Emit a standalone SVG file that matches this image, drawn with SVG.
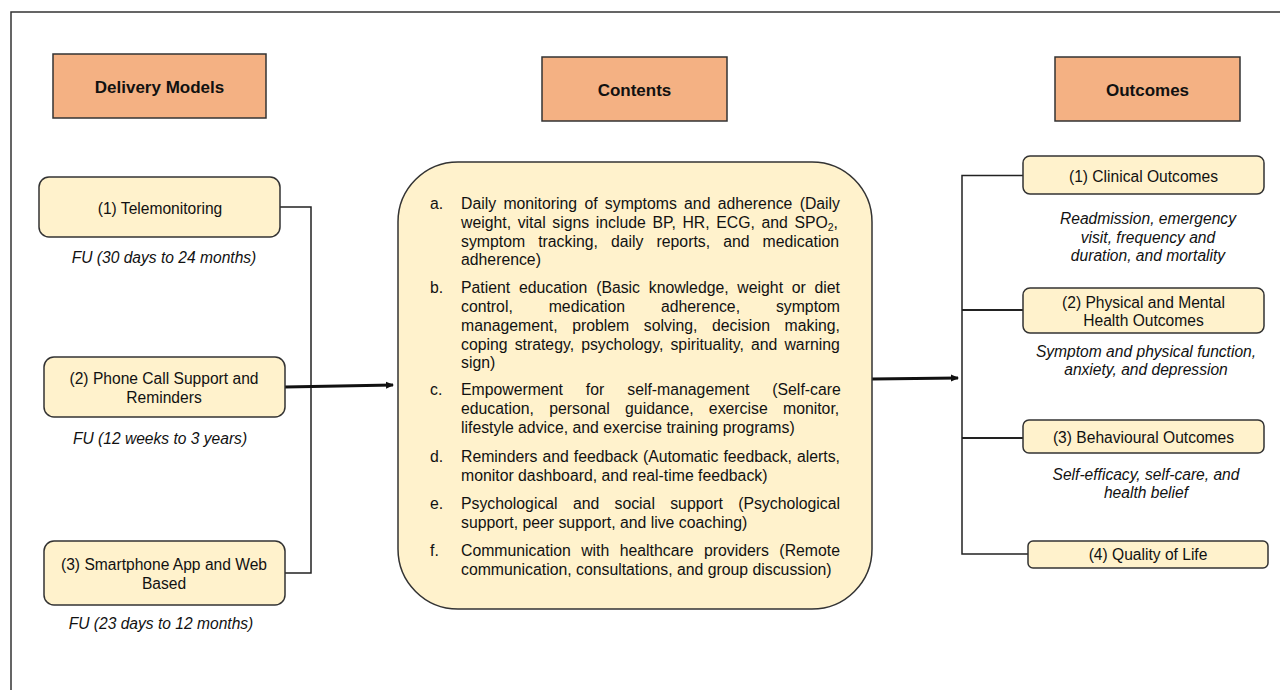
<svg xmlns="http://www.w3.org/2000/svg" width="1280" height="690" viewBox="0 0 1280 690">
<style>
text{font-family:"Liberation Sans",Arial,sans-serif;fill:#111;font-size:15.6px}
.hdr{fill:#F4B183;stroke:#333;stroke-width:1.5}
.hdrt{font-weight:bold;font-size:17px;text-anchor:middle}
.node{fill:#FFF2CC;stroke:#333;stroke-width:1.5}
.c{text-anchor:middle}
.it{font-style:italic;text-anchor:middle}
.ln{fill:none;stroke:#222;stroke-width:1.5}
.th{fill:none;stroke:#111;stroke-width:3}
#contents text{font-size:15.8px}
</style>
<defs>
<marker id="ah" markerWidth="8" markerHeight="8" refX="7" refY="4" orient="auto" markerUnits="userSpaceOnUse">
<path d="M0,0.5 L8,4 L0,7.5 Z" fill="#111"/>
</marker>
</defs>
<rect width="1280" height="690" fill="#fff"/>
<path d="M11,690 V12 H1280" fill="none" stroke="#333" stroke-width="1.5"/>

<g id="hdr-delivery"><rect class="hdr" x="53" y="54" width="213" height="64"/><text class="hdrt" x="159.5" y="93">Delivery Models</text></g>
<g id="hdr-contents"><rect class="hdr" x="542" y="57" width="185" height="64"/><text class="hdrt" x="634.5" y="96">Contents</text></g>
<g id="hdr-outcomes"><rect class="hdr" x="1055" y="57" width="185" height="64"/><text class="hdrt" x="1147.5" y="96">Outcomes</text></g>

<g id="connectors">
<path class="ln" d="M280,207 H311 V573 H285"/>
<path class="th" d="M285,387 L393,385" marker-end="url(#ah)"/>
<path class="th" d="M872,379 L958,378" marker-end="url(#ah)"/>
<path class="ln" d="M1023,175.5 H962 V554 H1028"/>
<path class="ln" style="stroke-width:2" d="M962,310 H1023"/>
<path class="ln" style="stroke-width:2" d="M962,438 H1023"/>
</g>

<g id="telemonitoring"><rect class="node" x="39" y="177" width="241" height="60" rx="10"/><text class="c" x="160" y="213.5">(1) Telemonitoring</text><text class="it" x="164" y="262.5">FU (30 days to 24 months)</text></g>
<g id="phone"><rect class="node" x="44" y="357" width="241" height="60" rx="10"/><text class="c" x="164" y="383.5">(2) Phone Call Support and</text><text class="c" x="164" y="402.5">Reminders</text><text class="it" x="160" y="443.5">FU (12 weeks to 3 years)</text></g>
<g id="smartphone"><rect class="node" x="44" y="541" width="241" height="64" rx="10"/><text class="c" x="164" y="569.5">(3) Smartphone App and Web</text><text class="c" x="164" y="588.5">Based</text><text class="it" x="161" y="628.5">FU (23 days to 12 months)</text></g>

<g id="contents">
<rect class="node" x="398" y="162" width="474" height="447" rx="60"/>
<text x="430" y="208.5">a.</text>
<text x="461" y="208.5" word-spacing="2.88">Daily monitoring of symptoms and adherence (Daily</text>
<text x="461" y="227.5" word-spacing="2.2">weight, vital signs include BP, HR, ECG, and SPO<tspan font-size="10.5" dy="3">2</tspan><tspan dy="-3">,</tspan></text>
<text x="461" y="246.5" word-spacing="8.7">symptom tracking, daily reports, and medication</text>
<text x="461" y="264.5">adherence)</text>
<text x="430" y="292.5">b.</text>
<text x="461" y="292.5" word-spacing="4.33">Patient education (Basic knowledge, weight or diet</text>
<text x="461" y="311.5" word-spacing="31.5">control, medication adherence, symptom</text>
<text x="461" y="330.5" word-spacing="10.2">management, problem solving, decision making,</text>
<text x="461" y="349.5" word-spacing="2.7">coping strategy, psychology, spirituality, and warning</text>
<text x="461" y="367.5">sign)</text>
<text x="430" y="394.5">c.</text>
<text x="461" y="394.5" word-spacing="18.6">Empowerment for self-management (Self-care</text>
<text x="461" y="413.5" word-spacing="10.9">education, personal guidance, exercise monitor,</text>
<text x="461" y="432.5">lifestyle advice, and exercise training programs)</text>
<text x="430" y="461.5">d.</text>
<text x="461" y="461.5" word-spacing="0.63">Reminders and feedback (Automatic feedback, alerts,</text>
<text x="461" y="480.5">monitor dashboard, and real-time feedback)</text>
<text x="430" y="508.5">e.</text>
<text x="461" y="508.5" word-spacing="10.9">Psychological and social support (Psychological</text>
<text x="461" y="527.5">support, peer support, and live coaching)</text>
<text x="430" y="555.5">f.</text>
<text x="461" y="555.5" word-spacing="6.06">Communication with healthcare providers (Remote</text>
<text x="461" y="574.5">communication, consultations, and group discussion)</text>
</g>

<g id="clinical"><rect class="node" x="1023" y="156" width="241" height="38" rx="7"/><text class="c" x="1143.5" y="182">(1) Clinical Outcomes</text>
<text class="it" x="1148" y="223.5">Readmission, emergency</text><text class="it" x="1148" y="242.5">visit, frequency and</text><text class="it" x="1148" y="260.5">duration, and mortality</text></g>
<g id="physical"><rect class="node" x="1023" y="288" width="241" height="45" rx="7"/><text class="c" x="1143.5" y="307.5">(2) Physical and Mental</text><text class="c" x="1143.5" y="326">Health Outcomes</text>
<text class="it" x="1146" y="356.5">Symptom and physical function,</text><text class="it" x="1146" y="374.5">anxiety, and depression</text></g>
<g id="behavioural"><rect class="node" x="1023" y="420" width="241" height="33" rx="6"/><text class="c" x="1143.5" y="443">(3) Behavioural Outcomes</text>
<text class="it" x="1146" y="479.5">Self-efficacy, self-care, and</text><text class="it" x="1146" y="497.5">health belief</text></g>
<g id="qol"><rect class="node" x="1028" y="541" width="240" height="27" rx="5"/><text class="c" x="1148" y="560">(4) Quality of Life</text></g>
</svg>
